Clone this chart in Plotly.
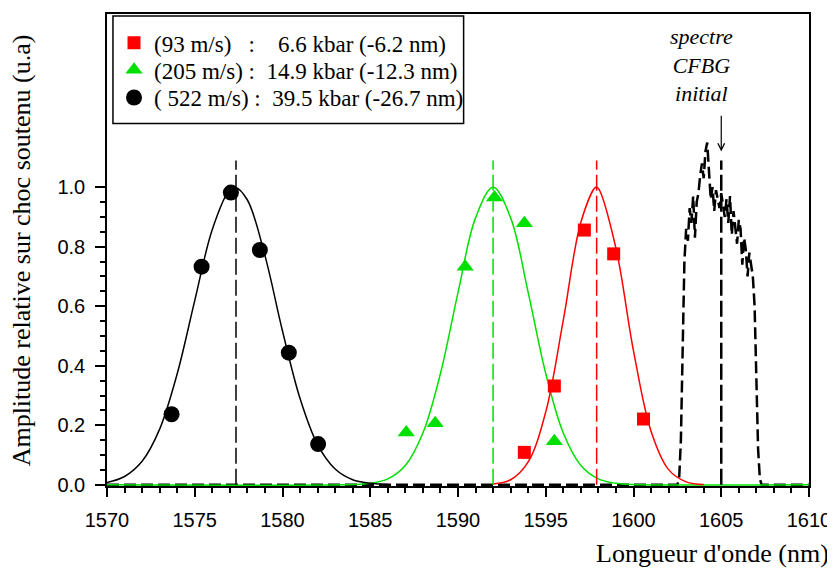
import plotly.graph_objects as go

# ─── Colours / fonts ──────────────────────────────────────────────────────────
BLACK = "#000000"
RED = "#FF0000"
GREEN = "#00E000"
SERIF = "Liberation Serif, Times New Roman, serif"
SANS = "Liberation Sans, Arial, sans-serif"

# ─── Data ─────────────────────────────────────────────────────────────────────
# measured points
red_x = [1593.78, 1595.49, 1597.20, 1598.87, 1600.57]
red_y = [0.109, 0.332, 0.856, 0.776, 0.221]
green_x = [1587.05, 1588.70, 1590.41, 1592.08, 1593.78, 1595.49]
green_y = [0.176, 0.207, 0.733, 0.965, 0.879, 0.146]
black_x = [1573.68, 1575.39, 1577.06, 1578.71, 1580.36, 1582.03]
black_y = [0.237, 0.733, 0.982, 0.789, 0.444, 0.137]

# fitted curves
black_fit_x = [1570, 1571, 1572, 1573, 1574, 1575, 1576, 1577, 1577.3, 1578,
               1579, 1580, 1581, 1582, 1583, 1584, 1585, 1586]
black_fit_y = [0.008, 0.028, 0.079, 0.187, 0.373, 0.619, 0.858, 0.992, 1.0, 0.957,
               0.770, 0.517, 0.290, 0.135, 0.053, 0.017, 0.005, 0.001]
green_fit_x = [1570, 1584, 1585, 1586, 1587, 1588, 1589, 1590, 1591, 1592,
               1593, 1594, 1595, 1596, 1597, 1598, 1599, 1600, 1610]
green_fit_y = [0.0, 0.001, 0.005, 0.020, 0.065, 0.174, 0.374, 0.646, 0.897, 1.0,
               0.897, 0.646, 0.374, 0.174, 0.065, 0.020, 0.005, 0.001, 0.0]
red_fit_x = [1592, 1593, 1594, 1595, 1596, 1597, 1597.85, 1598, 1599, 1600,
             1601, 1602, 1603, 1604]
red_fit_y = [0.003, 0.017, 0.077, 0.245, 0.553, 0.882, 1.0, 0.996, 0.795, 0.450,
             0.180, 0.051, 0.010, 0.001]

# initial CFBG spectrum (dashed)
cfbg_x = [1570, 1602.5, 1602.6, 1602.7, 1602.8, 1602.9, 1603.0, 1603.1, 1603.2,
          1603.3, 1603.4, 1603.5, 1603.6, 1603.7, 1603.8, 1603.9, 1604.0, 1604.1,
          1604.2, 1604.3, 1604.4, 1604.5, 1604.6, 1604.7, 1604.8, 1604.9, 1605.0,
          1605.1, 1605.2, 1605.3, 1605.4, 1605.5, 1605.6, 1605.7, 1605.8, 1605.9,
          1606.0, 1606.1, 1606.2, 1606.3, 1606.4, 1606.5, 1606.6, 1606.7, 1606.8,
          1606.9, 1607.0, 1607.1, 1607.2, 1607.3, 1610]
cfbg_y = [0.0, 0.0, 0.02, 0.15, 0.45, 0.75, 0.86, 0.82, 0.93,
          0.88, 0.97, 0.83, 0.95, 0.98, 1.04, 1.08, 1.03, 1.12,
          1.15, 1.06, 0.96, 1.00, 0.92, 0.99, 0.96, 0.93, 0.98,
          0.94, 0.90, 0.96, 0.88, 0.97, 0.84, 0.92, 0.87, 0.81,
          0.89, 0.86, 0.74, 0.83, 0.79, 0.70, 0.78, 0.73, 0.70,
          0.60, 0.35, 0.12, 0.02, 0.0, 0.0]

# peak centres (vertical dashed markers)
centre_x = [1577.35, 1592.0, 1597.9, 1605.0]
centre_top = [1.09, 1.09, 1.09, 1.09]
centre_col = [BLACK, GREEN, RED, BLACK]

legend_names = [
    "(93 m/s)\u00a0\u00a0\u00a0:\u00a0\u00a0\u00a0\u00a06.6 kbar (-6.2 nm)",
    "(205 m/s)\u00a0:\u00a0\u00a014.9 kbar (-12.3 nm)",
    "(\u00a0522 m/s)\u00a0:\u00a0\u00a039.5 kbar (-26.7 nm)",
]

y_major = [0.0, 0.2, 0.4, 0.6, 0.8, 1.0]
y_minor = [0.05, 0.1, 0.15, 0.25, 0.3, 0.35, 0.45, 0.5, 0.55,
           0.65, 0.7, 0.75, 0.85, 0.9, 0.95]

# ─── Figure ───────────────────────────────────────────────────────────────────
fig = go.Figure()

fig.add_trace(go.Scatter(x=cfbg_x, y=cfbg_y, mode="lines", showlegend=False,
                         line=dict(color=BLACK, width=2.5, dash="12px,5px")))
for fx, fy, col in [(green_fit_x, green_fit_y, GREEN),
                    (red_fit_x, red_fit_y, RED),
                    (black_fit_x, black_fit_y, BLACK)]:
    fig.add_trace(go.Scatter(x=fx, y=fy, mode="lines", showlegend=False,
                             line=dict(color=col, width=1.5, shape="spline")))

for cx, top, col in zip(centre_x, centre_top, centre_col):
    w = 2.5 if cx == centre_x[-1] else 1.5
    fig.add_trace(go.Scatter(x=[cx, cx], y=[0, top], mode="lines", showlegend=False,
                             line=dict(color=col, width=w, dash="16px,5px")))

# one legend per row so the row spacing can follow the reference
fig.add_trace(go.Scatter(x=red_x, y=red_y, mode="markers", name=legend_names[0],
                         legend="legend",
                         marker=dict(symbol="square", size=13, color=RED)))
fig.add_trace(go.Scatter(x=green_x, y=green_y, mode="markers", name=legend_names[1],
                         legend="legend2",
                         marker=dict(symbol="triangle-up", size=15, color=GREEN)))
fig.add_trace(go.Scatter(x=black_x, y=black_y, mode="markers", name=legend_names[2],
                         legend="legend3",
                         marker=dict(symbol="circle", size=16, color=BLACK)))

# legend frame
fig.add_shape(type="rect", xref="paper", yref="paper",
              x0=0.0085, x1=0.508, y0=0.768, y1=0.996,
              line=dict(color=BLACK, width=1.5), fillcolor="rgba(0,0,0,0)")

fig.add_annotation(x=1603.86, y=1.412, xref="x", yref="y", showarrow=False,
                   text="<i>spectre</i><br><i>CFBG</i><br><i>initial</i>",
                   font=dict(family=SERIF, size=22, color=BLACK), align="center")
fig.add_annotation(x=1605.0, y=1.12, ax=1605.0, ay=1.245, xref="x", yref="y",
                   axref="x", ayref="y", showarrow=True, arrowhead=5,
                   arrowsize=1.1, arrowwidth=1.2, arrowcolor=BLACK, text="")

fig.add_annotation(x=1.032, y=-0.142, xref="paper", yref="paper", showarrow=False,
                   xanchor="right", yanchor="middle", text="Longueur d'onde (nm)",
                   font=dict(family=SERIF, size=26, color=BLACK))
fig.add_annotation(x=-0.122, y=0.5, xref="paper", yref="paper", showarrow=False,
                   textangle=-90, xanchor="center", yanchor="middle",
                   text="Amplitude relative sur choc soutenu (u.a)",
                   font=dict(family=SERIF, size=26, color=BLACK))

leg = dict(x=0.01, xanchor="left", yanchor="middle", bgcolor="rgba(0,0,0,0)",
           borderwidth=0, font=dict(family=SERIF, size=23, color=BLACK))

# the page body adds an 8px offset, so the figure is drawn 8px smaller
fig.update_layout(
    width=827, height=566,
    margin=dict(l=99, r=25, t=4, b=88),
    plot_bgcolor="white", paper_bgcolor="white",
    font=dict(family=SANS, color=BLACK, size=20),
    legend=dict(leg, y=0.939),
    legend2=dict(leg, y=0.882),
    legend3=dict(leg, y=0.823),
)
fig.update_xaxes(range=[1570, 1610], dtick=5, tick0=1570, showgrid=False, zeroline=False,
                 showline=True, linecolor=BLACK, linewidth=1.5, mirror=True,
                 ticks="outside", ticklen=9, tickwidth=1.5, tickcolor=BLACK,
                 ticklabelstandoff=6, tickfont=dict(family=SANS, size=20),
                 minor=dict(dtick=1, ticks="outside", ticklen=5, tickcolor=BLACK))
fig.update_yaxes(range=[-0.004, 1.582], tickmode="array", tickvals=y_major,
                 tickformat=".1f", showgrid=False, zeroline=False,
                 showline=True, linecolor=BLACK, linewidth=1.5, mirror=True,
                 ticks="outside", ticklen=10, tickwidth=1.5, tickcolor=BLACK,
                 ticklabelstandoff=6, tickfont=dict(family=SANS, size=20),
                 minor=dict(tickmode="array", tickvals=y_minor, ticks="outside",
                            ticklen=5, tickcolor=BLACK))

fig.write_html("out.html")
